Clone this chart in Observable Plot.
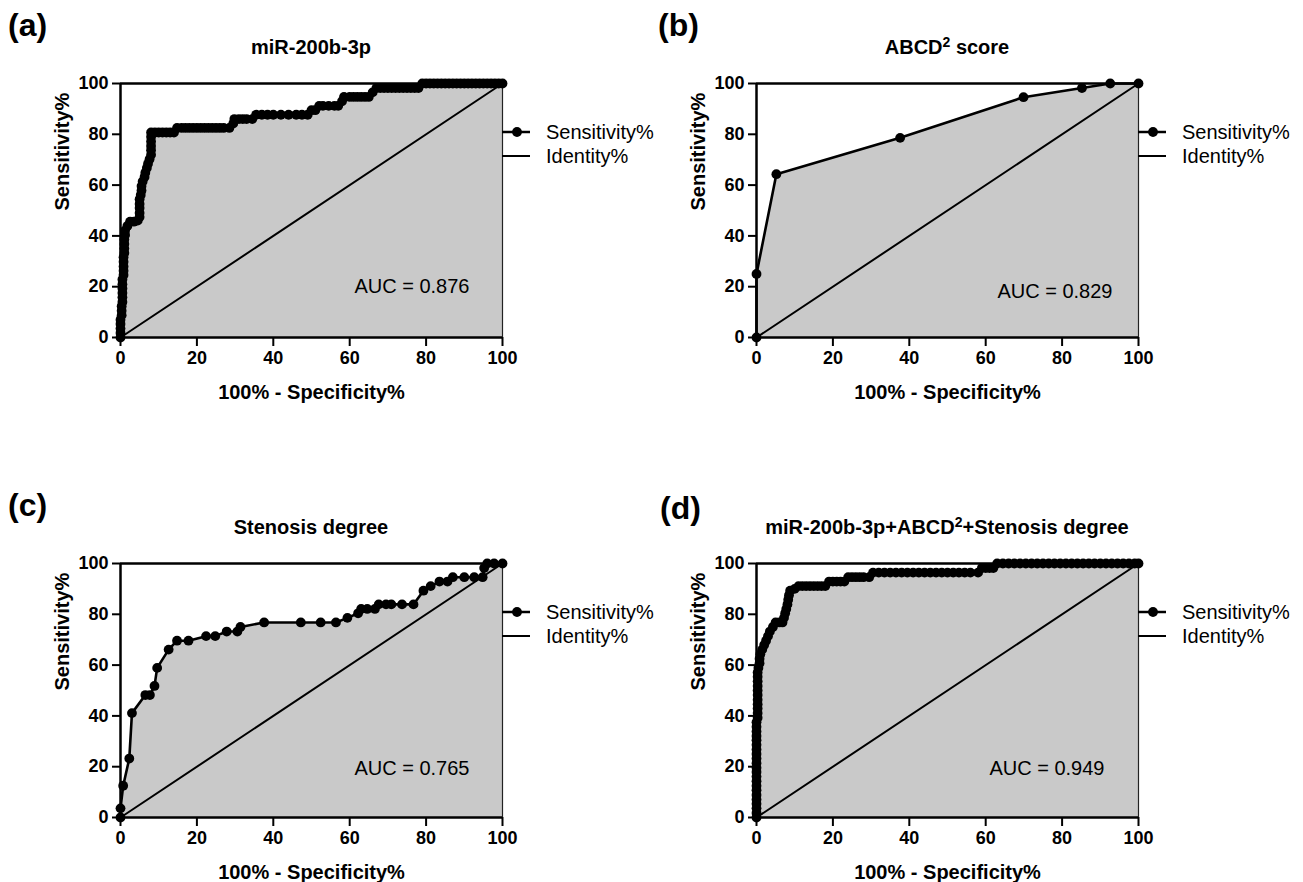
<!DOCTYPE html>
<html><head><meta charset="utf-8">
<script src="https://cdn.jsdelivr.net/npm/d3@7"></script>
<script src="https://cdn.jsdelivr.net/npm/@observablehq/plot@0.6"></script>
<style>
body{margin:0;background:#fff;font-family:"Liberation Sans",Arial,Helvetica,sans-serif;color:#000;}
#root{position:relative;width:1303px;height:882px;overflow:hidden;background:#fff;}
.panel{position:absolute;}
.panel svg.plot{position:absolute;left:0;top:0;}
.letter{position:absolute;font-weight:bold;font-size:32px;line-height:1;white-space:nowrap;}
.title{position:absolute;font-weight:bold;font-size:20px;line-height:1;white-space:nowrap;transform:translate(-50%,-50%);}
.title sup{font-size:14px;vertical-align:7px;line-height:0;}
.legtext{position:absolute;font-size:20px;line-height:1;white-space:nowrap;transform:translateY(-50%);}
.legmark{position:absolute;}
</style></head><body><div id="root"></div>
<script>
// ---------- data ----------
const xTicks = [0, 20, 40, 60, 80, 100];
const yTicks = [0, 20, 40, 60, 80, 100];
const panelLetters = ["(a)", "(b)", "(c)", "(d)"];
const panelTitles = ["miR-200b-3p", "ABCD<sup>2</sup> score", "Stenosis degree", "miR-200b-3p+ABCD<sup>2</sup>+Stenosis degree"];
const aucLabels = ["AUC = 0.876", "AUC = 0.829", "AUC = 0.765", "AUC = 0.949"];
const seriesNames = ["Sensitivity%", "Identity%"];
const xLabel = "100% - Specificity%";
const yLabel = "Sensitivity%";
const identityLine = [[0, 0], [100, 100]];

// [100% - Specificity%, Sensitivity%]
const rocA = [[0,0],[0,1.8],[0,3.5],[0,5.3],[0,7],[0.3,8.8],[0.3,10.5],[0.3,12.3],[0.5,14],[0.5,15.8],[0.5,17.5],[0.5,19.3],[0.5,21],[0.5,22.8],[0.8,24.6],[0.8,26.3],[0.8,28],[0.8,29.8],[0.8,31.6],[1,33.3],[1,35],[1,36.8],[1,38.6],[1.2,40.4],[1.2,42.1],[1.8,43.9],[2.5,45.6],[3.5,45.6],[4.5,46],[5,47.4],[5,49],[5,51],[5,52.6],[5,54.4],[5.3,56.1],[5.5,57.9],[5.5,59.6],[5.8,61.4],[6.3,63.2],[6.5,64.9],[6.9,66.7],[7.2,68.4],[7.6,70.2],[8,71.9],[8,73.7],[8,75.4],[8,77.2],[8,79],[8,80.7],[9,80.7],[10,80.7],[11,80.7],[12,80.7],[13,80.7],[14,80.7],[14.8,82.5],[16,82.5],[17,82.5],[18,82.5],[19,82.5],[20,82.5],[21,82.5],[22,82.5],[23,82.5],[24,82.5],[25,82.5],[26,82.5],[27,82.5],[28.5,82.5],[29.5,84.2],[29.8,86],[31,86],[32,86],[33,86],[34.5,86],[35.5,87.7],[37,87.7],[38.5,87.7],[40,87.7],[42,87.7],[44,87.7],[46,87.7],[47.5,87.7],[49,87.7],[50,89.5],[51,89.5],[52,91.2],[53,91.2],[54.5,91.2],[56,91.2],[57,91.2],[58,93],[58.5,94.7],[60,94.7],[61,94.7],[62,94.7],[63,94.7],[64,94.7],[65,94.7],[66,96.5],[67,98.2],[68,98.2],[69,98.2],[70,98.2],[71,98.2],[72,98.2],[73,98.2],[74,98.2],[75,98.2],[76,98.2],[77,98.2],[78,98.2],[79,100],[80,100],[81,100],[82,100],[83,100],[84,100],[85,100],[86,100],[87,100],[88,100],[89,100],[90,100],[91,100],[92,100],[93,100],[94,100],[95,100],[96,100],[97,100],[98,100],[99,100],[100,100]];

const rocB = [[0,0],[0,25],[5.2,64.3],[37.6,78.6],[69.9,94.6],[85.2,98.2],[92.6,100],[100,100]];

const rocC = [[0,0],[0,3.6],[0.7,12.5],[2.3,23.2],[3,41.1],[6.5,48.2],[7.7,48.2],[8.9,51.8],[9.6,58.9],[12.6,66.1],[14.8,69.6],[17.8,69.6],[22.4,71.4],[24.8,71.4],[27.8,73.2],[30.6,73.2],[31.4,75],[37.6,76.8],[47.2,76.8],[52.4,76.8],[56.4,76.8],[59.4,78.6],[62.2,80.4],[63,82.1],[64.6,82.1],[66.6,82.1],[67.6,83.9],[69.5,83.9],[70.9,83.9],[73.7,83.9],[76.7,83.9],[79.3,89.3],[81.2,91.1],[83.5,92.9],[85.6,92.9],[87,94.6],[90,94.6],[92.6,94.6],[94.8,94.6],[95.2,98.2],[96,100],[97.8,100],[100,100]];

const rocD = [[0,0],[0,1.8],[0,3.6],[0,5.4],[0,7.1],[0,8.9],[0,10.7],[0,12.5],[0,14.3],[0,16.1],[0,17.9],[0,19.6],[0,21.4],[0,23.2],[0,25],[0,26.8],[0,28.6],[0,30.4],[0,32.1],[0,33.9],[0,35.7],[0,37.5],[0.3,39.3],[0.3,41.1],[0.3,42.9],[0.3,44.6],[0.3,46.4],[0.3,48.2],[0.3,50],[0.3,51.8],[0.3,53.6],[0.3,55.4],[0.3,57.1],[0.5,58.9],[0.8,60.7],[0.8,62.5],[1,64.3],[1.5,66.1],[2,67.9],[2.5,69.6],[3,71.4],[3.5,73.2],[4.3,75],[5,76.8],[6,76.8],[6.8,76.8],[7.2,78.6],[7.5,80.4],[7.8,82.1],[8.1,83.9],[8.3,85.7],[8.5,87.5],[8.8,89.3],[10,90],[11,91.1],[12,91.1],[13,91.1],[14,91.1],[15,91.1],[16,91.1],[17,91.1],[18,91.1],[19,92.9],[20,92.9],[21,92.9],[22,92.9],[23,92.9],[24,94.6],[25,94.6],[26,94.6],[27,94.6],[28,94.6],[29.5,94.6],[30.5,96.4],[32,96.4],[33.5,96.4],[35,96.4],[36.5,96.4],[38,96.4],[39.5,96.4],[41,96.4],[42.5,96.4],[44,96.4],[45.5,96.4],[47,96.4],[48.5,96.4],[50,96.4],[51.5,96.4],[53,96.4],[54.5,96.4],[56,96.4],[58,96.4],[59,98.2],[60,98.2],[61,98.2],[62,98.2],[63,100],[64.5,100],[66,100],[67.5,100],[69,100],[70.5,100],[72,100],[73.5,100],[75,100],[76.5,100],[78,100],[79.5,100],[81,100],[82.5,100],[84,100],[85.5,100],[87,100],[88.5,100],[90,100],[91.5,100],[93,100],[94.5,100],[96,100],[97.5,100],[99,100],[100,100]];

const rocSeries = [rocA, rocB, rocC, rocD];

// ---------- layout ----------
const layouts = [
  {left: 0,   top: 0,   width: 636, height: 480, mr: 134, mb: 143, letterX: 8,  letterY: 9,  aucDx: -33, aucDy: -51},
  {left: 636, top: 0,   width: 667, height: 480, mr: 165, mb: 143, letterX: 22, letterY: 9,  aucDx: -26, aucDy: -46},
  {left: 0,   top: 480, width: 636, height: 402, mr: 134, mb: 65,  letterX: 8,  letterY: 9,  aucDx: -33, aucDy: -49},
  {left: 636, top: 480, width: 667, height: 402, mr: 165, mb: 65,  letterX: 24, letterY: 12, aucDx: -34, aucDy: -49}
];
const ML = 120, MT = 83;
const FONT = "'Liberation Sans', Arial, Helvetica, sans-serif";
const root = document.getElementById("root");

rocSeries.forEach((pts, i) => {
  const L = layouts[i];
  const panel = document.createElement("div");
  panel.className = "panel";
  panel.style.left = L.left + "px";
  panel.style.top = L.top + "px";
  panel.style.width = L.width + "px";
  panel.style.height = L.height + "px";
  root.appendChild(panel);

  const px = d => d[0], py = d => d[1];
  const chart = Plot.plot({
    width: L.width, height: L.height,
    marginLeft: ML, marginTop: MT, marginRight: L.mr, marginBottom: L.mb,
    x: {domain: [0, 100]},
    y: {domain: [0, 100]},
    style: {fontFamily: FONT, fontSize: "18px", color: "#000", background: "transparent", overflow: "visible"},
    marks: [
      Plot.areaY(pts, {x: px, y1: 0, y2: py, fill: "#c9c9c9", curve: "linear"}),
      Plot.ruleX([100], {stroke: "#222", strokeWidth: 1.2}),
      Plot.ruleY([100], {stroke: "#000", strokeWidth: 2.5}),
      Plot.line(identityLine, {x: px, y: py, stroke: "#000", strokeWidth: 2}),
      Plot.line(pts, {x: px, y: py, stroke: "#000", strokeWidth: 2.6, curve: "linear"}),
      Plot.dot(pts, {x: px, y: py, r: 4.9, fill: "#000", stroke: "none"}),
      Plot.axisX({ticks: xTicks, tickSize: 9, tickPadding: 5, tickFormat: d => String(d), label: null, fontWeight: "bold", fontSize: 18, strokeWidth: 2}),
      Plot.axisY({ticks: yTicks, tickSize: 8, tickPadding: 4, tickFormat: d => String(d), label: null, fontWeight: "bold", fontSize: 18, strokeWidth: 2}),
      Plot.ruleX([0], {stroke: "#000", strokeWidth: 2.5}),
      Plot.ruleY([0], {stroke: "#000", strokeWidth: 2.5}),
      Plot.text([xLabel], {text: d => d, frameAnchor: "bottom", dy: 55, lineAnchor: "middle", fontWeight: "bold", fontSize: 20}),
      Plot.text([yLabel], {text: d => d, frameAnchor: "left", dx: -58, rotate: -90, lineAnchor: "middle", fontWeight: "bold", fontSize: 20}),
      Plot.text([aucLabels[i]], {text: d => d, frameAnchor: "bottom-right", textAnchor: "end", lineAnchor: "middle", dx: L.aucDx, dy: L.aucDy, fontSize: 20, fontWeight: "normal"})
    ]
  });
  chart.classList.add("plot");
  panel.appendChild(chart);

  const letter = document.createElement("div");
  letter.className = "letter";
  letter.textContent = panelLetters[i];
  letter.style.left = L.letterX + "px";
  letter.style.top = L.letterY + "px";
  panel.appendChild(letter);

  const title = document.createElement("div");
  title.className = "title";
  title.innerHTML = panelTitles[i];
  title.style.left = (ML + (L.width - ML - L.mr) / 2) + "px";
  title.style.top = "47px";
  panel.appendChild(title);

  // legend
  const plotRight = L.width - L.mr;
  const ns = "http://www.w3.org/2000/svg";
  const mk = document.createElementNS(ns, "svg");
  mk.setAttribute("class", "legmark");
  mk.setAttribute("width", 30);
  mk.setAttribute("height", 40);
  mk.style.left = plotRight + "px";
  mk.style.top = (MT + 37) + "px";
  const l1 = document.createElementNS(ns, "line");
  l1.setAttribute("x1", 0); l1.setAttribute("x2", 28); l1.setAttribute("y1", 12); l1.setAttribute("y2", 12);
  l1.setAttribute("stroke", "#000"); l1.setAttribute("stroke-width", 2.5);
  const c1 = document.createElementNS(ns, "circle");
  c1.setAttribute("cx", 15); c1.setAttribute("cy", 12); c1.setAttribute("r", 4.9); c1.setAttribute("fill", "#000");
  const l2 = document.createElementNS(ns, "line");
  l2.setAttribute("x1", 0); l2.setAttribute("x2", 28); l2.setAttribute("y1", 36); l2.setAttribute("y2", 36);
  l2.setAttribute("stroke", "#000"); l2.setAttribute("stroke-width", 2);
  mk.append(l1, c1, l2);
  panel.appendChild(mk);
  seriesNames.forEach((name, k) => {
    const t = document.createElement("div");
    t.className = "legtext";
    t.textContent = name;
    t.style.left = (plotRight + 44) + "px";
    t.style.top = (MT + 49 + k * 24) + "px";
    panel.appendChild(t);
  });
});
</script></body></html>
